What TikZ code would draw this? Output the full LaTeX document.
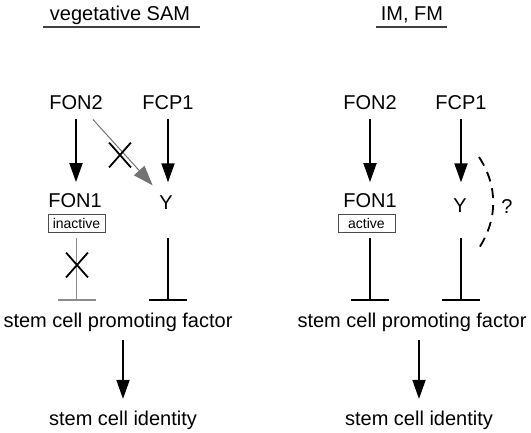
\documentclass[tikz,border=0pt]{standalone}
\usepackage{fontspec}
\setmainfont{Liberation Sans}
\usetikzlibrary{arrows.meta,shapes.misc,calc}
\begin{document}
\begin{tikzpicture}[x=1pt,y=-1pt,
  lbl/.style={font=\fontsize{20}{24}\selectfont, inner sep=0pt, anchor=base},
  tagbox/.style={draw=black!70, line width=0.8pt, font=\fontsize{14}{16}\selectfont, minimum width=57pt, minimum height=18pt, inner sep=0pt},
  act/.style={line width=1.8pt, -{Triangle[length=19pt,width=13pt]}},
  gact/.style={line width=1pt, color=black!55, -{Triangle[length=20pt,width=14pt]}},
  inh/.style={line width=1.8pt, -{Bar[width=38pt]}},
  ginh/.style={inh, color=black!45},
  xmark/.style={cross out, draw, line width=1.8pt, minimum width=20pt, minimum height=23pt, inner sep=0pt},
  uline/.style={line width=1.4pt, draw=black!75},
  dashy/.style={line width=1.8pt, dash pattern=on 10pt off 7pt}]
\useasboundingbox (0,0) rectangle (531,432);

% ---------- left panel ----------
\node[lbl] (tL) at (120,20) {vegetative SAM};
\draw[uline] (43,27) -- (200,27);

\node[lbl] (fon2L) at (76,109) {FON2};
\node[lbl] (fcp1L) at (168,109) {FCP1};
\node[lbl] (fon1L) at (75,207) {FON1};
\node[lbl] (yL) at (166,209) {Y};
\node[tagbox] (inL) at (76.5,223) {inactive};
\node[lbl] (promL) at (118,327) {stem cell promoting factor};
\node[lbl] (idL) at (123,425) {stem cell identity};

\draw[act, shorten <=10pt, shorten >=10.7pt] (fon2L.south) -- (fon2L.south |- fon1L.north);
\draw[act, shorten <=10pt, shorten >=12.7pt] (fcp1L.south) -- (fcp1L.south |- yL.north);
\draw[gact] ($(fon2L.south east)+(-10,10)$) -- ($(yL.north west)+(-6.5,-9.7)$);
\node[xmark] (xL1) at (120,155) {};

\draw[ginh, shorten <=6pt, shorten >=11.4pt] (inL.south) -- (inL.south |- promL.north);
\node[xmark] (xL2) at (77,265) {};
\draw[inh, shorten <=29pt, shorten >=11.4pt] (fcp1L.south |- yL.south) -- (fcp1L.south |- promL.north);

\draw[act, shorten <=8.8pt, shorten >=11.4pt] (idL.north |- promL.south) -- (idL.north);

% ---------- right panel ----------
\node[lbl] (tR) at (412,20) {IM, FM};
\draw[uline] (376,27) -- (447,27);

\node[lbl] (fon2R) at (370,109) {FON2};
\node[lbl] (fcp1R) at (461,109) {FCP1};
\node[lbl] (fon1R) at (370,207) {FON1};
\node[lbl] (yR) at (460,212) {Y};
\node[tagbox] (inR) at (366.5,223) {active};
\node[lbl] (promR) at (412,327) {stem cell promoting factor};
\node[lbl] (idR) at (419,425) {stem cell identity};
\node[lbl] (qR) at (507,213) {?};

\draw[act, shorten <=10pt, shorten >=10.7pt] (fon2R.south) -- (fon2R.south |- fon1R.north);
\draw[act, shorten <=10pt, shorten >=15.7pt] (fcp1R.south) -- (fcp1R.south |- yR.north);

\draw[inh, shorten <=6pt, shorten >=11.4pt] (fon2R.south |- inR.south) -- (fon2R.south |- promR.north);
\draw[inh, shorten <=26pt, shorten >=11.4pt] (fcp1R.south |- yR.south) -- (fcp1R.south |- promR.north);

\coordinate (da) at (479,157);
\coordinate (db) at (479,248);
\draw[dashy] (da) .. controls (498,186) and (498,219) .. (db);

\draw[act, shorten <=8.8pt, shorten >=11.4pt] (idR.north |- promR.south) -- (idR.north);
\end{tikzpicture}
\end{document}
